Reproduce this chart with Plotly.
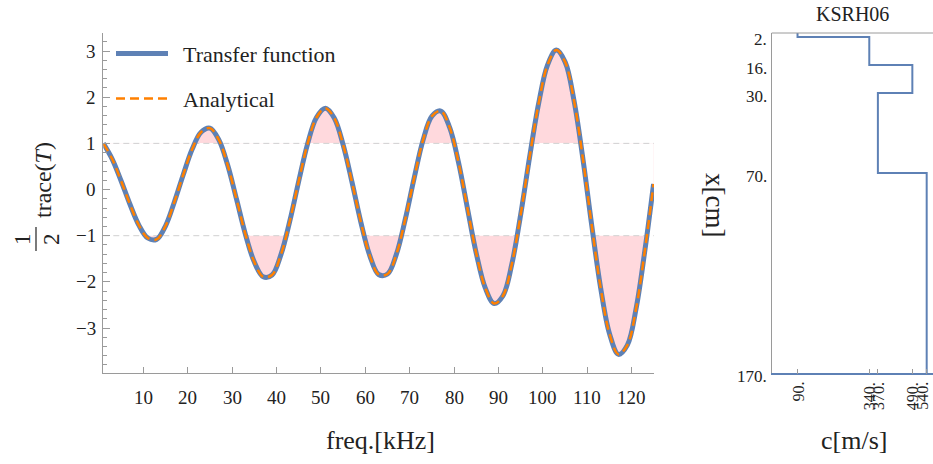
import plotly.graph_objects as go

# ---------------- data ----------------
FREQ_KHZ = [1, 3, 5, 7, 9, 11, 13, 15, 17, 19, 21, 23, 25, 27, 29, 31, 33, 35, 37, 39,
            41, 43, 45, 47, 49, 51, 53, 55, 57, 59, 61, 63, 65, 67, 69, 71, 73, 75, 77,
            79, 81, 83, 85, 87, 89, 91, 93, 95, 97, 99, 101, 103, 105, 107, 109, 111,
            113, 115, 117, 119, 121, 123, 124.9]
TRANSFER = [1.00, 0.66, 0.19, -0.32, -0.77, -1.05, -1.08, -0.79, -0.27, 0.32, 0.87, 1.24,
            1.33, 1.08, 0.53, -0.21, -0.97, -1.57, -1.89, -1.85, -1.41, -0.68, 0.18, 0.99,
            1.56, 1.76, 1.55, 0.97, 0.16, -0.71, -1.43, -1.84, -1.83, -1.40, -0.64, 0.25,
            1.07, 1.59, 1.70, 1.34, 0.58, -0.41, -1.39, -2.13, -2.47, -2.30, -1.61, -0.53,
            0.71, 1.85, 2.69, 3.02, 2.76, 1.92, 0.66, -0.79, -2.14, -3.13, -3.57, -3.37,
            -2.56, -1.28, 0.12]
ANALYTICAL = [1.00, 0.66, 0.19, -0.32, -0.77, -1.05, -1.08, -0.79, -0.27, 0.32, 0.87, 1.24,
              1.33, 1.08, 0.53, -0.21, -0.97, -1.57, -1.89, -1.85, -1.41, -0.68, 0.18, 0.99,
              1.56, 1.76, 1.55, 0.97, 0.16, -0.71, -1.43, -1.84, -1.83, -1.40, -0.64, 0.25,
              1.07, 1.59, 1.70, 1.34, 0.58, -0.41, -1.39, -2.13, -2.47, -2.30, -1.61, -0.53,
              0.71, 1.85, 2.69, 3.02, 2.76, 1.92, 0.66, -0.79, -2.14, -3.13, -3.57, -3.37,
              -2.56, -1.28, 0.12]
THRESHOLDS = [1.0, -1.0]
FREQ_TICKS = [10, 20, 30, 40, 50, 60, 70, 80, 90, 100, 110, 120]
TRACE_TICKS = [-3, -2, -1, 0, 1, 2, 3]

LAYER_TOP_CM = [0, 2, 16, 30, 70]
LAYER_SPEED = [90, 340, 490, 370, 540]
BOTTOM_CM = 170
PANEL_TITLE = "KSRH06"

# ---------------- styling ----------------
W, H = 933, 464
FONT = "Liberation Serif, DejaVu Serif, serif"
BLUE = "#5E81B5"
ORANGE = "#FF8000"
PINK = "rgb(255,217,221)"
AXIS = "#9A9A9A"
TXT = "#222222"


def px(x):
    return x / W


def py(y):
    return 1 - y / H


hi, lo = max(THRESHOLDS), min(THRESHOLDS)
x_ends = [FREQ_KHZ[0], FREQ_KHZ[-1]]

fig = go.Figure()
# pink: area between curve and the upper threshold ...
fig.add_trace(go.Scatter(x=x_ends, y=[hi, hi], mode="lines", line=dict(width=0),
                         hoverinfo="skip", showlegend=False))
fig.add_trace(go.Scatter(x=FREQ_KHZ, y=TRANSFER, mode="lines", fill="tonexty",
                         fillcolor=PINK, line=dict(width=0, shape="spline"),
                         hoverinfo="skip", showlegend=False))
# ... with the band between the thresholds cleared again
fig.add_trace(go.Scatter(x=x_ends, y=[lo, lo], mode="lines", line=dict(width=0),
                         hoverinfo="skip", showlegend=False))
fig.add_trace(go.Scatter(x=x_ends, y=[hi, hi], mode="lines", fill="tonexty",
                         fillcolor="white", line=dict(width=0),
                         hoverinfo="skip", showlegend=False))
for t in THRESHOLDS:
    fig.add_trace(go.Scatter(x=[1, 125], y=[t, t], mode="lines",
                             line=dict(color="#D0D0D0", width=1, dash="6px,4px"),
                             hoverinfo="skip", showlegend=False))

fig.add_trace(go.Scatter(x=FREQ_KHZ, y=TRANSFER, mode="lines", name="Transfer function",
                         line=dict(color=BLUE, width=5, shape="spline"), showlegend=False))
fig.add_trace(go.Scatter(x=FREQ_KHZ, y=ANALYTICAL, mode="lines", name="Analytical",
                         line=dict(color=ORANGE, width=2.5, shape="spline", dash="9px,5px"),
                         showlegend=False))

# velocity profile
fig.add_trace(go.Scatter(x=LAYER_SPEED + [LAYER_SPEED[-1]], y=LAYER_TOP_CM + [BOTTOM_CM],
                         mode="lines", line=dict(color=BLUE, width=2, shape="vh"),
                         xaxis="x2", yaxis="y2", showlegend=False))

ydom = [py(373.3), py(33)]
speed_ticks = sorted(set(LAYER_SPEED))
depth_ticks = LAYER_TOP_CM[1:] + [BOTTOM_CM]
fig.update_layout(
    width=W, height=H, autosize=False,
    margin=dict(l=0, r=0, t=0, b=0, pad=0, autoexpand=False),
    paper_bgcolor="white", plot_bgcolor="white",
    font=dict(family=FONT, size=19, color=TXT),
    xaxis=dict(domain=[px(103.3), px(654)], range=[1, 125], anchor="y", automargin=False,
               showline=True, linecolor=AXIS, linewidth=1, ticks="inside", ticklen=6,
               tickcolor=AXIS, tickvals=FREQ_TICKS, showticklabels=False,
               showgrid=False, zeroline=False),
    yaxis=dict(domain=ydom, range=[-3.98, 3.39], anchor="x", automargin=False,
               showline=True, linecolor=AXIS, linewidth=1, ticks="inside", ticklen=7,
               tickcolor=AXIS, tickvals=TRACE_TICKS, showticklabels=False,
               showgrid=False, zeroline=False,
               minor=dict(dtick=0.2, ticks="inside", ticklen=4, tickcolor=AXIS, showgrid=False)),
    xaxis2=dict(domain=[px(771.7), 1.0], range=[0, 562], anchor="y2", automargin=False,
                showline=True, linecolor=BLUE, linewidth=1.5, ticks="inside", ticklen=5,
                tickcolor=AXIS, tickvals=speed_ticks, showticklabels=False,
                showgrid=False, zeroline=False),
    yaxis2=dict(domain=ydom, range=[BOTTOM_CM, 0], anchor="x2", automargin=False,
                showline=True, linecolor=AXIS, linewidth=1, ticks="",
                tickvals=depth_ticks, showticklabels=False,
                showgrid=False, zeroline=False),
)

shapes = [
    # top frame of the profile panel
    dict(type="line", xref="x2 domain", yref="y2 domain", x0=0, x1=1, y0=1, y1=1,
         line=dict(color=AXIS, width=1)),
    # legend samples
    dict(type="line", xref="paper", yref="paper", x0=px(116), x1=px(168),
         y0=py(53.5), y1=py(53.5), line=dict(color=BLUE, width=5)),
    dict(type="line", xref="paper", yref="paper", x0=px(116), x1=px(168),
         y0=py(98.5), y1=py(98.5), line=dict(color=ORANGE, width=2.5, dash="9px,5px")),
    # fraction bar of the y title (vertical, since the title is rotated)
    dict(type="line", xref="paper", yref="paper", x0=px(36), x1=px(36),
         y0=py(227), y1=py(251), line=dict(color=TXT, width=1.2)),
]
fig.update_layout(shapes=shapes)

ann = []


def add(text, x, y, size, angle=0, xanchor="center", yanchor="middle",
        xref="paper", yref="paper", yshift=0, xshift=0):
    ann.append(dict(text=text, x=x, y=y, xref=xref, yref=yref, yshift=yshift,
                    xshift=xshift, showarrow=False, textangle=angle,
                    xanchor=xanchor, yanchor=yanchor,
                    font=dict(family=FONT, size=size, color=TXT)))


# tick labels (serif), placed through the axes' own scales
for v in FREQ_TICKS:
    add(str(v), v, py(397), 19, xref="x")
for v in TRACE_TICKS:
    add(str(v).replace("-", "\u2212"), px(97.5), v, 19, xanchor="right", yref="y")
for v in speed_ticks:
    # the label at the panel's right edge is nudged in so it is not clipped
    add(f"{v}.", v, py(380), 16, angle=-90, yanchor="top", xref="x2",
        xshift=-5 if v == max(speed_ticks) else 0)
for v in depth_ticks:
    add(f"{v}.", px(769), v, 17, xanchor="right", yref="y2", yshift=-3)

add("Transfer function", px(181), py(55), 22, xanchor="left")
add("Analytical", px(181), py(99), 22, xanchor="left")
add("freq.[kHz]", px(380), py(440), 26)
add("c[m/s]", px(854), py(440), 26)
add(PANEL_TITLE, px(852), py(14), 20)
add("x[cm]", px(715), py(205), 27, angle=90)
add("trace(<i>T</i>)", px(43), py(180), 24, angle=-90)
add("1", px(22), py(239), 23, angle=-90)
add("2", px(51), py(239), 23, angle=-90)
fig.update_layout(annotations=ann)

fig.write_html("out.html", config={"displayModeBar": False},
               post_script="document.body.style.margin='0';document.body.style.padding='0';")
